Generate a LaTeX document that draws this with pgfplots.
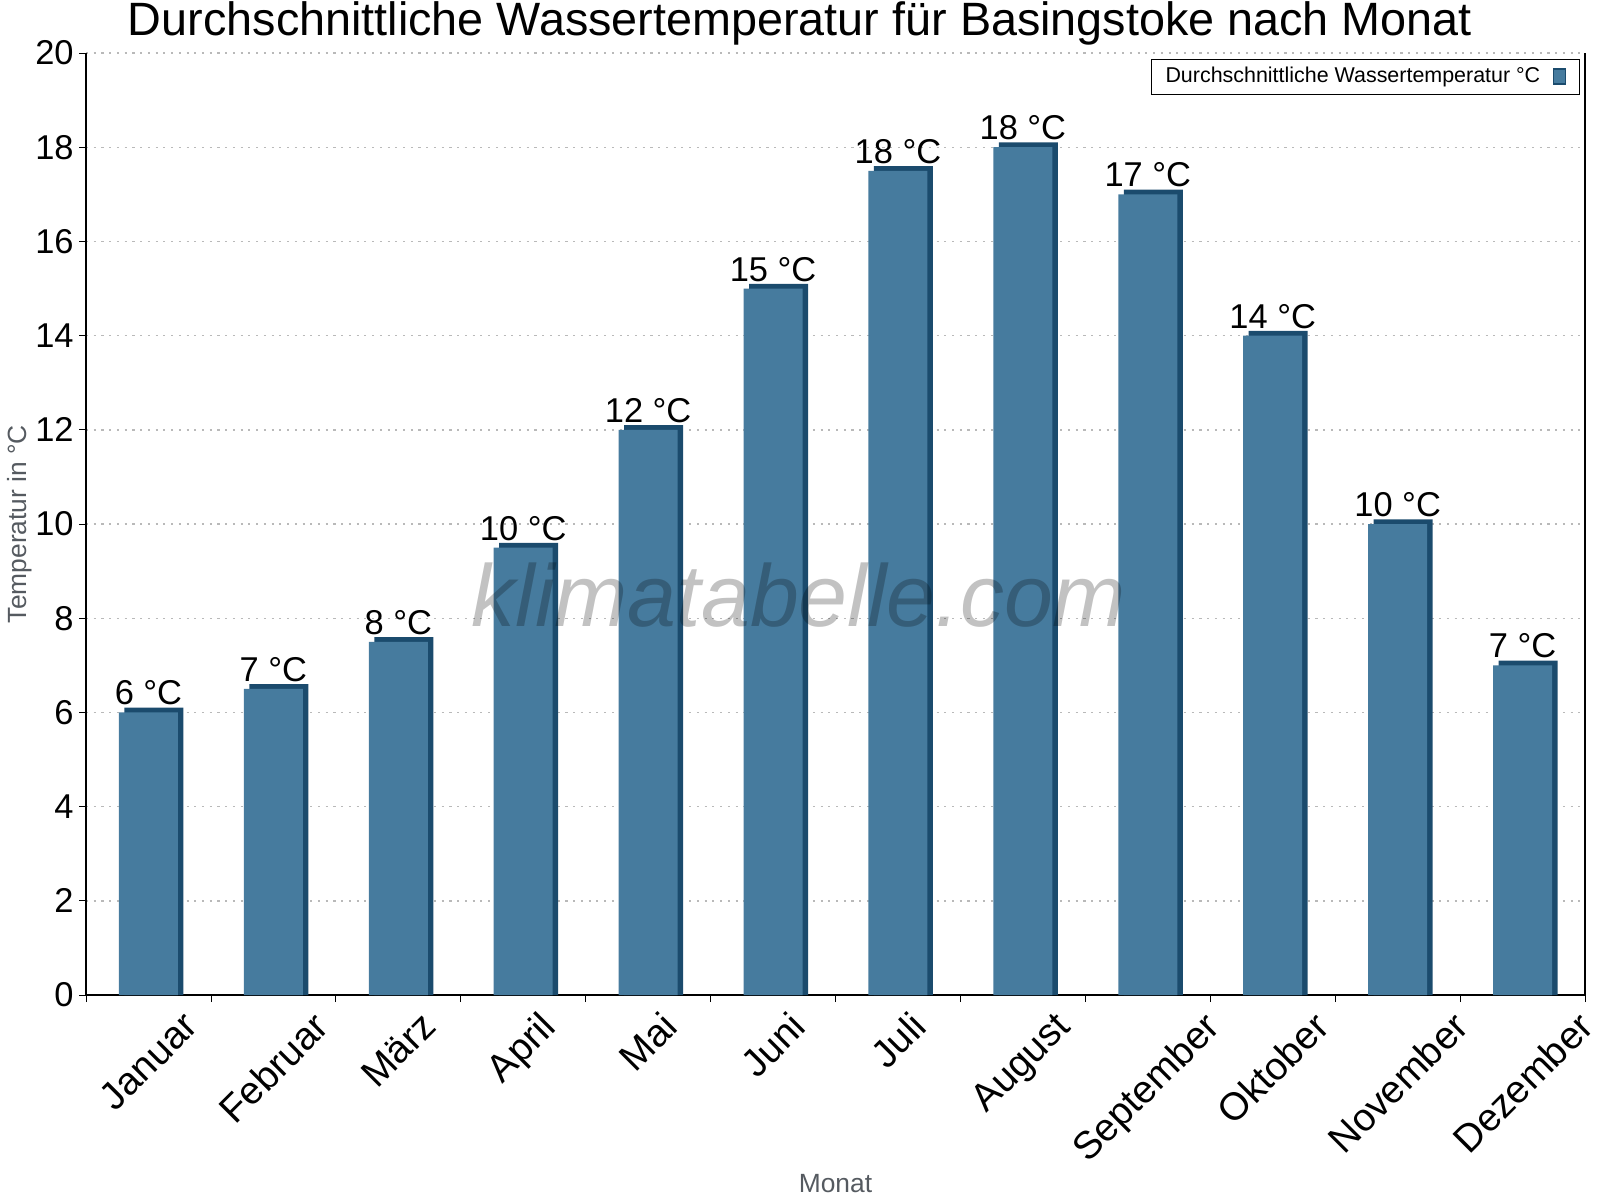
\documentclass[border=0pt]{standalone}
\usepackage{pgfplots}
\usepackage{pgfplotstable}
\pgfplotsset{compat=1.18}
\usepackage{fontspec}
\setmainfont{Liberation Sans}
\definecolor{barblue}{HTML}{467B9E}
\definecolor{bardark}{HTML}{1B4B6D}
\definecolor{labgray}{HTML}{555A60}
\pgfplotstableread{
x y yd lab
0 6 6.1 6
1 6.5 6.6 7
2 7.5 7.6 8
3 9.5 9.6 10
4 12 12.1 12
5 15 15.1 15
6 17.5 17.6 18
7 18 18.1 18
8 17 17.1 17
9 14 14.1 14
10 10 10.1 10
11 7 7.1 7
}\datatable
\newcommand{\rl}[1]{\rotatebox{45}{#1}}
\begin{document}
\begin{tikzpicture}
\useasboundingbox (0,0) rectangle (16cm,12cm);
\begin{axis}[
  at={(0.86cm,2.05cm)}, anchor=south west,
  scale only axis, width=14.99cm, height=9.42cm,
  xmin=-0.5, xmax=11.5, ymin=0, ymax=20,
  enlargelimits=false, clip=false,
  axis lines=left, axis line style={-, black},
  tick align=outside, major tick length=0.07cm,
  tick style={black},
  xtick={-0.5,0.5,...,11.5},
  x tick label as interval,
  xticklabels={\rl{Januar},\rl{Februar},\rl{März},\rl{April},\rl{Mai},\rl{Juni},\rl{Juli},\rl{August},\rl{September},\rl{Oktober},\rl{November},\rl{Dezember}},
  xticklabel style={anchor=north, font=\fontsize{11}{13}\selectfont, inner sep=0pt, yshift=-0.07cm},
  ytick={0,2,...,20},
  yticklabel style={font=\fontsize{9.8}{12}\selectfont, xshift=0.07cm},
  /pgf/number format/assume math mode=true,
  ymajorgrids, grid style={gray!55, dash pattern=on 0.6pt off 1.6pt},
  xlabel={Monat}, ylabel={Temperatur in °C},
  xlabel style={at={(axis description cs:0.5,-0.2)}, anchor=center, font=\fontsize{7.5}{9}\selectfont, text=labgray},
  ylabel style={at={(axis description cs:-0.044,0.5)}, anchor=center, font=\fontsize{7.5}{9}\selectfont, text=labgray},
  ybar, bar width=0.59cm,
  legend style={at={(rel axis cs:1,1)}, anchor=north east, xshift=-0.05cm, yshift=-0.06cm,
     draw=black, font=\fontsize{6.1}{7}\selectfont, inner xsep=2pt, inner ysep=0.5pt,
     nodes={inner ysep=1.5pt, inner xsep=2pt}},
  legend plot pos=right,
  legend image code/.code={\path (0cm,0cm) (0.25cm,0cm); \draw[fill=barblue,draw=bardark] (0.06cm,-0.07cm) rectangle (0.18cm,0.08cm);},
]
\addplot[fill=bardark, draw=none, bar shift=0.055cm, forget plot] table[x=x, y=yd] {\datatable};
\addplot[fill=barblue, draw=none, bar shift=0pt,
  nodes near coords={\pgfplotspointmeta\ °C},
  point meta=explicit symbolic,
  every node near coord/.append style={font=\fontsize{9.8}{12}\selectfont, black, yshift=-1.5pt}]
  table[x=x, y=y, meta=lab] {\datatable};
\addlegendentry{Durchschnittliche Wassertemperatur °C}
\draw[black] (rel axis cs:1,0) -- (rel axis cs:1,1);
\end{axis}
\node[font=\itshape\fontsize{25}{30}\selectfont, text=black, opacity=0.24] at (7.99cm,6.05cm) {klimatabelle.com};
\node[font=\fontsize{13.3}{16}\selectfont] at (8.0cm,11.77cm) {Durchschnittliche Wassertemperatur für Basingstoke nach Monat};
\end{tikzpicture}
\end{document}
